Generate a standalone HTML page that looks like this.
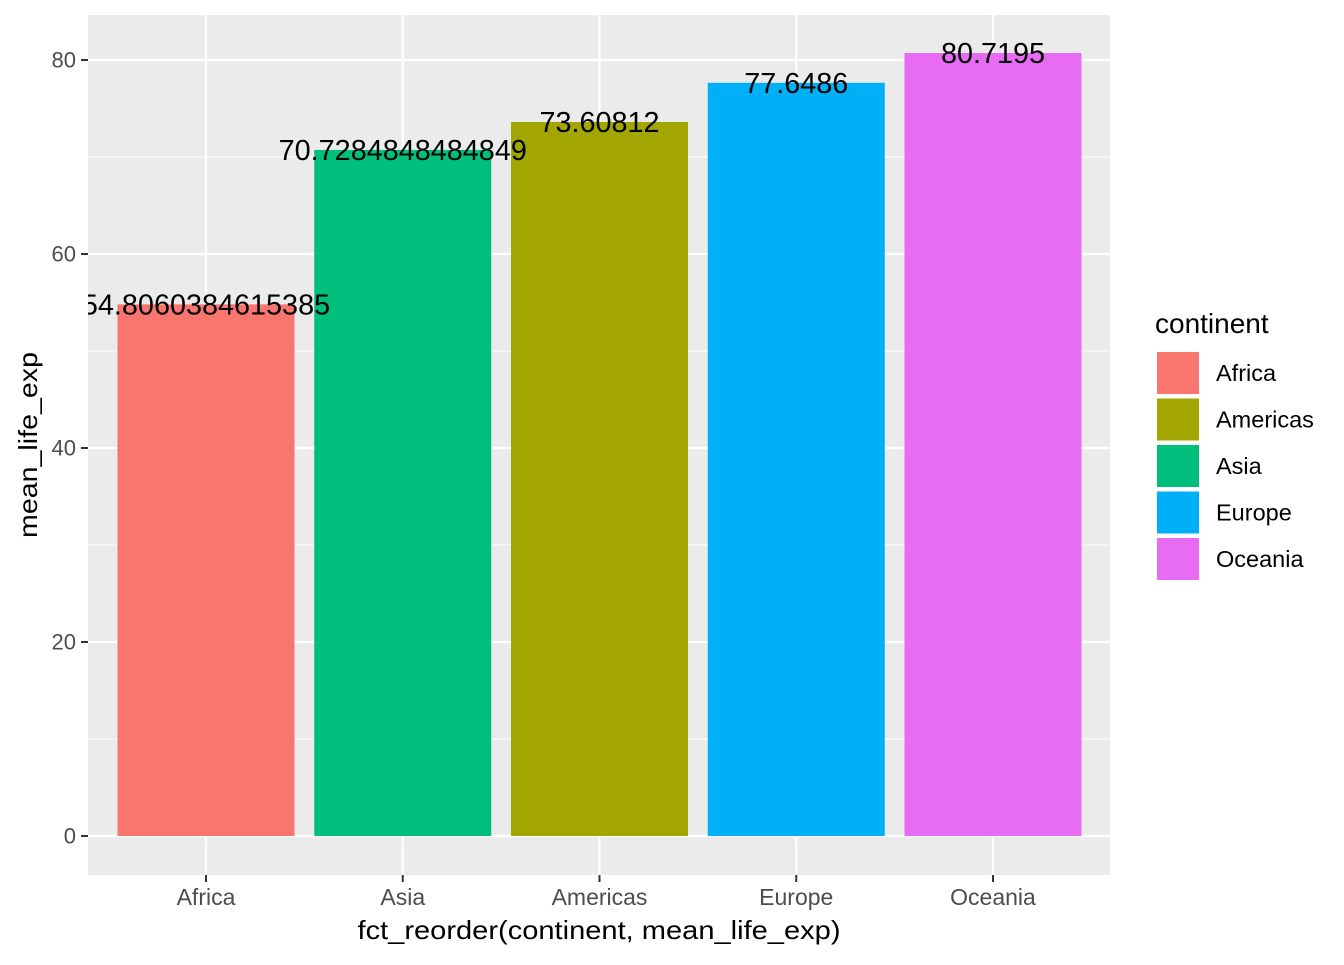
<!DOCTYPE html>
<html><head><meta charset="utf-8"><style>
body{margin:0;background:#fff;}
svg text{font-family:"Liberation Sans",Arial,sans-serif;}
</style></head><body>
<svg width="1344" height="960">
<defs><clipPath id="pc"><rect x="88" y="15" width="1022" height="860"/></clipPath></defs>
<rect x="88" y="15" width="1022" height="860" fill="#ebebeb"/>
<g id="grid"></g><g id="bars"></g><g id="vlabels" clip-path="url(#pc)"></g><g id="axes"></g><g id="legend"></g>
<text x="599" y="939" text-anchor="middle" font-size="26" textLength="483" lengthAdjust="spacingAndGlyphs">fct_reorder(continent, mean_life_exp)</text>
<text transform="translate(37,445) rotate(-90)" text-anchor="middle" font-size="26" textLength="186" lengthAdjust="spacingAndGlyphs">mean_life_exp</text>
</svg>
<script>
const categories=["Africa","Asia","Americas","Europe","Oceania"];
const values=[54.8060384615385,70.7284848484849,73.60812,77.6486,80.7195];
const labels=["54.8060384615385","70.7284848484849","73.60812","77.6486","80.7195"];
const colors=["#F8766D","#00BF7D","#A3A500","#00B0F6","#E76BF3"];
const yTicks=[0,20,40,60,80];
const legendNames=["Africa","Americas","Asia","Europe","Oceania"];
const legendColors=["#F8766D","#A3A500","#00BF7D","#00B0F6","#E76BF3"];
const NS="http://www.w3.org/2000/svg";
const y=v=>836-v*9.7;
const x=i=>206+i*196.75;
function mk(p,t,a){const e=document.createElementNS(NS,t);for(const k in a)e.setAttribute(k,a[k]);document.getElementById(p).appendChild(e);return e;}
for(let v=10;v<90;v+=20){const e=mk('grid','line',{x1:88,x2:1110,y1:y(v),y2:y(v),stroke:'#fff','stroke-width':1});

}
yTicks.forEach(v=>{const e=mk('grid','line',{x1:88,x2:1110,y1:y(v),y2:y(v),stroke:'#fff','stroke-width':2.2});


const t=mk('axes','line',{x1:81,x2:88,y1:y(v),y2:y(v),stroke:'#333','stroke-width':2});


const l=mk('axes','text',{x:76,y:y(v)+7.5,'text-anchor':'end','font-size':22,fill:'#4d4d4d'});l.textContent=v;

});
categories.forEach((c,i)=>{const g=mk('grid','line',{x1:x(i),x2:x(i),y1:15,y2:875,stroke:'#fff','stroke-width':2.2});


const b=mk('bars','rect',{x:x(i)-88.5,width:177,y:y(values[i]),height:y(0)-y(values[i]),fill:colors[i]});


const lb=mk('vlabels','text',{x:x(i),y:y(values[i])+10,'text-anchor':'middle','font-size':28.8});lb.textContent=labels[i];


const t=mk('axes','line',{x1:x(i),x2:x(i),y1:875,y2:882,stroke:'#333','stroke-width':2});


const l=mk('axes','text',{x:x(i),y:905,'text-anchor':'middle','font-size':23,fill:'#4d4d4d'});l.textContent=c;

});
const lt=mk('legend','text',{x:1155,y:333,'font-size':28});lt.textContent='continent';


legendNames.forEach((n,i)=>{const yy=351+i*46.5;
const r=mk('legend','rect',{x:1156,y:yy,width:44,height:44,fill:legendColors[i],stroke:'#fff','stroke-width':2});


const t=mk('legend','text',{x:1216,y:yy+30,'font-size':23.5});t.textContent=n;

});
</script>
</body></html>
